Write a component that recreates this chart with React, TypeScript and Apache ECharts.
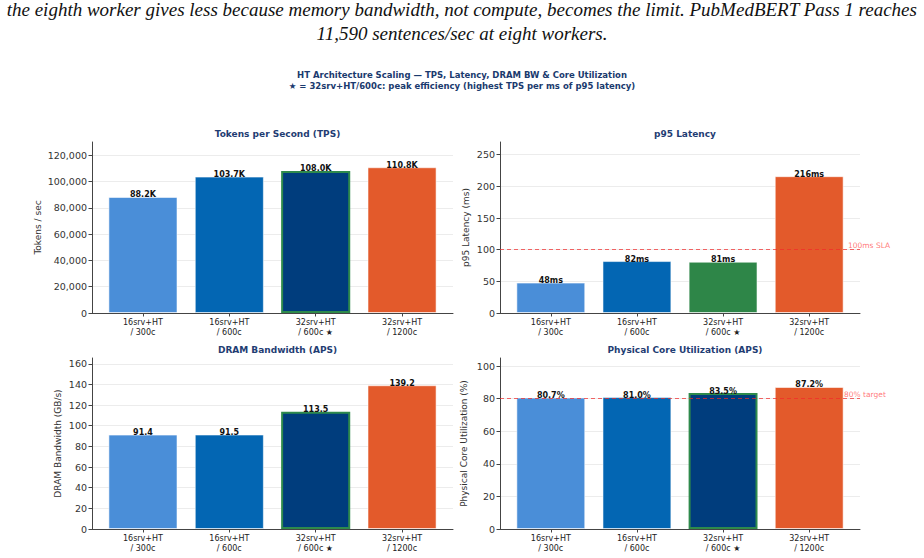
import React, { useEffect, useRef } from "react";
import * as echarts from "echarts";

const categories = ["16srv+HT\n/ 300c", "16srv+HT\n/ 600c", "32srv+HT\n/ 600c ★", "32srv+HT\n/ 1200c"];
const tpsValues = [88200, 103700, 108000, 110800];
const latencyValues = [48, 82, 81, 216];
const dramValues = [91.4, 91.5, 113.5, 139.2];
const coreValues = [80.7, 81.0, 83.5, 87.2];

const tpsTicks = [0, 20000, 40000, 60000, 80000, 100000, 120000];
const latencyTicks = [0, 50, 100, 150, 200, 250];
const dramTicks = [0, 20, 40, 60, 80, 100, 120, 140, 160];
const coreTicks = [0, 20, 40, 60, 80, 100];

const slaValue = 100;
const coreTarget = 80;

const barColors = ["#4a8ed8", "#0366b3", "#003d7d", "#e35a2b"];
const latencyColors = ["#4a8ed8", "#0366b3", "#2e8648", "#e35a2b"];
const starIndex = 2;

const FONT = "DejaVu Sans";

export default function App() {
  const ref = useRef<HTMLDivElement>(null);
  useEffect(() => {
    if (!ref.current) return;
    const chart = echarts.init(ref.current, null, { renderer: "svg" });

    const grids = [
      { left: 92, top: 142, width: 361, height: 171 },
      { left: 500, top: 142, width: 360, height: 171 },
      { left: 92, top: 358, width: 361, height: 171 },
      { left: 500, top: 358, width: 360, height: 171 },
    ];
    const titles = ["Tokens per Second (TPS)", "p95 Latency", "DRAM Bandwidth (APS)", "Physical Core Utilization (APS)"];
    const yNames = ["Tokens / sec", "p95 Latency (ms)", "DRAM Bandwidth (GB/s)", "Physical Core Utilization (%)"];
    const yNameGaps = [50, 30, 30, 32];
    const yMax = [130000, 270, 165.6, 105];
    const yTicks = [tpsTicks, latencyTicks, dramTicks, coreTicks];
    const values = [tpsValues, latencyValues, dramValues, coreValues];
    const fmts = [
      (v: number) => (v / 1000).toFixed(1) + "K",
      (v: number) => Math.round(v) + "ms",
      (v: number) => v.toFixed(1),
      (v: number) => v.toFixed(1) + "%",
    ];
    const catIdx = categories.map((_, i) => i);

    const xAxis = grids.map((_, i) => ({
      type: "value",
      gridIndex: i,
      min: -0.59,
      max: 3.59,
      splitLine: { show: false },
      axisLine: { show: true, onZero: false, lineStyle: { color: "#444", width: 1 } },
      axisTick: { show: true, customValues: catIdx, length: 3.5, lineStyle: { color: "#444" } },
      axisLabel: {
        customValues: catIdx,
        formatter: (v: number) => categories[Math.round(v)],
        fontFamily: FONT,
        fontSize: 8,
        color: "#222",
        lineHeight: 9.5,
        margin: 5,
      },
    }));

    const yAxis = grids.map((_, i) => ({
      type: "value",
      gridIndex: i,
      min: 0,
      max: yMax[i],
      name: yNames[i],
      nameLocation: "middle",
      nameRotate: 90,
      nameGap: yNameGaps[i],
      nameTextStyle: { fontFamily: FONT, fontSize: 9, color: "#333" },
      axisLine: { show: true, onZero: false, lineStyle: { color: "#444", width: 1 } },
      axisTick: { show: true, customValues: yTicks[i], length: 3.5, lineStyle: { color: "#444" } },
      axisLabel: {
        customValues: yTicks[i],
        fontFamily: FONT,
        fontSize: 9.5,
        color: "#333",
        margin: 5,
        formatter: (v: number) => (i === 0 ? v.toLocaleString("en-US") : String(v)),
      },
      splitLine: { show: true, lineStyle: { color: "#ececec", width: 1 } },
    }));

    const series: any[] = grids.map((_, i) => {
      const colors = i === 1 ? latencyColors : barColors;
      const s: any = {
        type: "bar",
        xAxisIndex: i,
        yAxisIndex: i,
        barWidth: "80%",
        data: values[i].map((v, k) => ({
          value: [k, v],
          itemStyle: {
            color: colors[k],
            borderColor: k === starIndex && i !== 1 ? "#2e8a4c" : "rgba(255,255,255,0.55)",
            borderWidth: k === starIndex && i !== 1 ? 2 : 1,
          },
        })),
        label: {
          show: true,
          position: "top",
          distance: -2,
          fontFamily: FONT,
          fontWeight: "bold",
          fontSize: 8,
          color: "#111",
          formatter: (p: any) => fmts[i](p.value[1]),
        },
      };
      if (i === 1 || i === 3) {
        const val = i === 1 ? slaValue : coreTarget;
        const txt = i === 1 ? "100ms SLA" : "80% target";
        const ls = { color: "#f22a2a", opacity: 0.7, type: [4, 3], width: 1 };
        s.markLine = {
          silent: true,
          symbol: "none",
          lineStyle: ls,
          label: {
            show: true,
            position: "end",
            formatter: txt,
            fontFamily: FONT,
            fontSize: 7.5,
            color: "#ff3a3a",
            offset: i === 1 ? [-17, -4] : [-21, -4],
          },
          data: [{ yAxis: val, lineStyle: ls }],
        };
      }
      return s;
    });

    const title: any[] = grids.map((g, i) => ({
      text: titles[i],
      left: g.left + g.width / 2,
      top: g.top - 18,
      textAlign: "center",
      textStyle: { fontFamily: FONT, fontSize: 9, fontWeight: "bold", color: "#1f3d73" },
    }));

    chart.setOption({
      animation: false,
      backgroundColor: "#ffffff",
      title,
      grid: grids.map((g) => ({ ...g, containLabel: false })),
      xAxis,
      yAxis,
      series,
      graphic: [
        {
          type: "text",
          left: "center",
          top: 0,
          style: {
            text: "the eighth worker gives less because memory bandwidth, not compute, becomes the limit. PubMedBERT Pass 1 reaches",
            font: 'italic 19px "Liberation Serif"',
            fill: "#111",
          },
        },
        {
          type: "text",
          left: "center",
          top: 24,
          style: {
            text: "11,590 sentences/sec at eight workers.",
            font: 'italic 19px "Liberation Serif"',
            fill: "#111",
          },
        },
        {
          type: "text",
          left: "center",
          top: 70,
          style: {
            text: "HT Architecture Scaling — TPS, Latency, DRAM BW & Core Utilization",
            font: 'bold 8.5px "DejaVu Sans"',
            fill: "#1a3a6e",
            align: "center",
          },
        },
        {
          type: "text",
          left: "center",
          top: 81,
          style: {
            text: "★ = 32srv+HT/600c: peak efficiency (highest TPS per ms of p95 latency)",
            font: 'bold 8.5px "DejaVu Sans"',
            fill: "#1a3a6e",
            align: "center",
          },
        },
      ],
    });
    return () => chart.dispose();
  }, []);
  return (
    <div
      ref={ref}
      style={{ position: "absolute", left: 0, top: 0, width: 924, height: 558, background: "#fff" }}
    />
  );
}
